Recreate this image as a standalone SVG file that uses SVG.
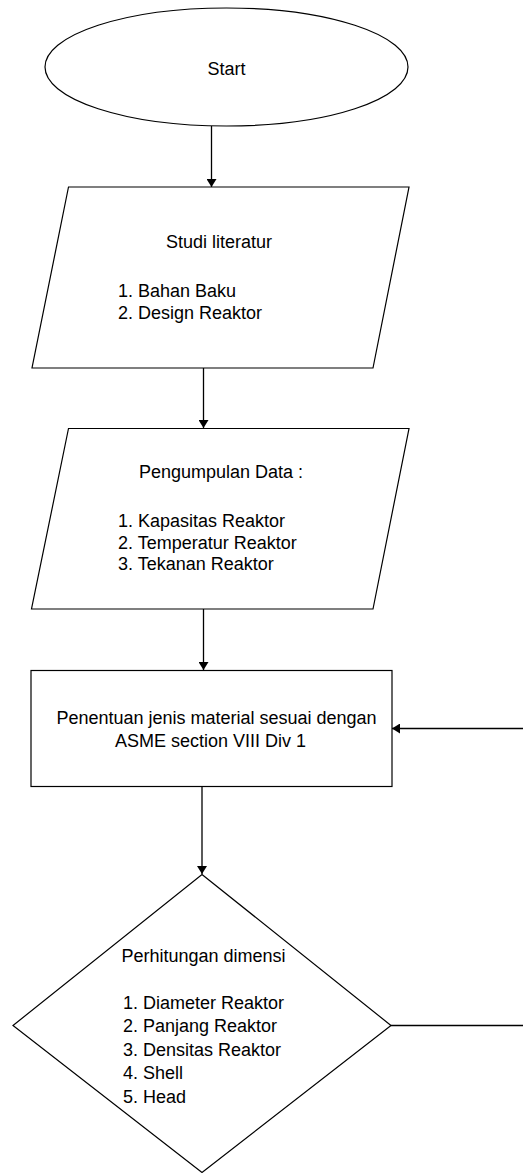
<svg xmlns="http://www.w3.org/2000/svg" width="523" height="1173" viewBox="0 0 523 1173">
<defs>
<marker id="arr" viewBox="0 0 8 10" markerWidth="8" markerHeight="10" refX="8" refY="5" orient="auto" markerUnits="userSpaceOnUse">
<path d="M0,0 L8,5 L0,10 z" fill="#000"/>
</marker>
<style>
.shape{fill:#fff;stroke:#000;stroke-width:1.2}
.conn{fill:none;stroke:#000;stroke-width:1.3}
text{font-family:"Liberation Sans",Arial,sans-serif;font-size:18px;fill:#000}
.c{text-anchor:middle}
</style>
</defs>
<rect width="523" height="1173" fill="#fff"/>
<g id="connectors">
<path class="conn" d="M211.5,126 V187" marker-end="url(#arr)"/>
<path class="conn" d="M203.5,368 V428" marker-end="url(#arr)"/>
<path class="conn" d="M203.5,609 V670" marker-end="url(#arr)"/>
<path class="conn" d="M202,787 V874" marker-end="url(#arr)"/>
<path class="conn" d="M391,1025.5 H524 V728.5 H392" marker-end="url(#arr)"/>
</g>
<g id="start">
<ellipse class="shape" cx="226.5" cy="67" rx="181.5" ry="59"/>
<text class="c" x="226.5" y="75">Start</text>
</g>
<g id="studi">
<polygon class="shape" points="68.5,187 409,187 373,368 32,368"/>
<text class="c" x="219" y="248">Studi literatur</text>
<text x="118" y="296.5">1. Bahan Baku</text>
<text x="118" y="319">2. Design Reaktor</text>
</g>
<g id="pengumpulan">
<polygon class="shape" points="68.5,428.5 409,428.5 373,609 31.5,609"/>
<text class="c" x="221" y="478">Pengumpulan Data :</text>
<text x="118" y="526.5">1. Kapasitas Reaktor</text>
<text x="118" y="548.5">2. Temperatur Reaktor</text>
<text x="118" y="570">3. Tekanan Reaktor</text>
</g>
<g id="penentuan">
<rect class="shape" x="31" y="670.5" width="361" height="116"/>
<text class="c" x="216.5" y="724">Penentuan jenis material sesuai dengan</text>
<text class="c" x="210.5" y="747">ASME section VIII Div 1</text>
</g>
<g id="perhitungan">
<polygon class="shape" points="202,874.5 391,1025.5 202,1172.5 13,1025.5"/>
<text class="c" x="203.5" y="961.5">Perhitungan dimensi</text>
<text x="123" y="1009">1. Diameter Reaktor</text>
<text x="123" y="1032">2. Panjang Reaktor</text>
<text x="123" y="1055.5">3. Densitas Reaktor</text>
<text x="123" y="1079">4. Shell</text>
<text x="123" y="1102.5">5. Head</text>
</g>
</svg>
